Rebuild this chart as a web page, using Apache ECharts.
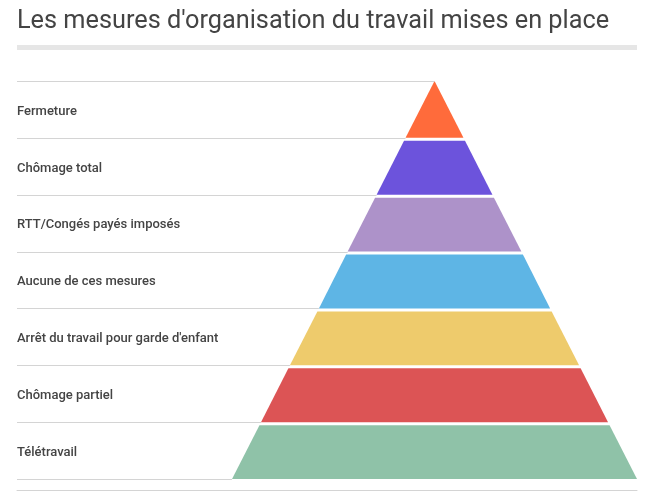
<!DOCTYPE html>
<html>
<head>
<meta charset="utf-8">
<script src="https://cdn.jsdelivr.net/npm/echarts@6/dist/echarts.min.js"></script>
<style>
  html, body { margin: 0; padding: 0; background: #fff; }
  #main { width: 651px; height: 497px; }
</style>
</head>
<body>
<div id="main"></div>
<script>
// pyramid levels, top to bottom
var categories = ['Fermeture', 'Chômage total', 'RTT/Congés payés imposés', 'Aucune de ces mesures',
  "Arrêt du travail pour garde d'enfant", 'Chômage partiel', 'Télétravail'];
// width of each level (bottom edge), % of base
var values = [14.3, 28.6, 42.9, 57.1, 71.4, 85.7, 100];
var colors = ['#ff6b3b', '#6c53dc', '#ad92c9', '#5eb5e5', '#eecb6c', '#dc5455', '#8fc2a8'];

var chart = echarts.init(document.getElementById('main'));

var seriesData = categories.map(function (name, i) {
  return {
    name: name,
    value: [i, values[i], i > 0 ? values[i - 1] : 0],
    itemStyle: { color: colors[i] }
  };
});

function renderItem(params, api) {
  var i = params.dataIndex;
  var v = api.value(1);
  var p = api.value(2);
  var center = api.coord([0, i]);
  var band = api.size([0, 1])[1];
  var s = api.size([1, 0])[0];
  var top = center[1] - band / 2;
  var bottom = center[1] + band / 2;
  var gap = i === 0 ? 0 : 3;
  var wTop = p + (v - p) * gap / band;
  var cx = center[0];
  var x0 = params.coordSys.x;
  var lineStyle = { stroke: '#d4d4d4', lineWidth: 1 };
  var children = [{
    type: 'polygon',
    shape: { points: [
      [cx - wTop / 2 * s, top + gap], [cx + wTop / 2 * s, top + gap],
      [cx + v / 2 * s, bottom], [cx - v / 2 * s, bottom]
    ] },
    style: { fill: api.visual('color') }
  }, {
    type: 'line',
    shape: { x1: x0, y1: Math.round(bottom) + 0.5, x2: cx - v / 2 * s, y2: Math.round(bottom) + 0.5 },
    style: lineStyle
  }];
  if (i === 0) {
    children.push({
      type: 'line',
      shape: { x1: x0, y1: Math.round(top) + 0.5, x2: cx, y2: Math.round(top) + 0.5 },
      style: lineStyle
    });
  }
  return { type: 'group', children: children };
}

var option = {
  backgroundColor: '#fff',
  animation: false,
  title: {
    text: "Les mesures d'organisation du travail mises en place",
    left: 17,
    top: 9,
    padding: 0,
    textStyle: {
      fontFamily: 'Roboto',
      fontSize: 25.3,
      fontWeight: 'normal',
      color: '#444'
    }
  },
  graphic: [{
    type: 'rect',
    left: 17,
    top: 45,
    shape: { width: 620, height: 5 },
    style: { fill: '#e6e6e6' }
  }],
  grid: {
    left: 17,
    right: 14,
    top: 81,
    bottom: 18
  },
  xAxis: {
    type: 'value',
    min: -103.1,
    max: 50,
    offset: 11,
    axisLine: { show: true, lineStyle: { color: '#d4d4d4', width: 1 } },
    axisTick: { show: false },
    axisLabel: { show: false },
    splitLine: { show: false }
  },
  yAxis: {
    type: 'category',
    data: categories,
    inverse: true,
    axisLine: { show: false },
    axisTick: { show: false },
    splitLine: { show: false },
    axisLabel: {
      inside: true,
      margin: 0,
      formatter: '{a|{value}}',
      rich: {
        a: {
          padding: [4, 0, 0, 0],
          fontFamily: 'Roboto',
          fontSize: 13,
          fontWeight: 500,
          color: '#444'
        }
      }
    }
  },
  series: [{
    type: 'custom',
    renderItem: renderItem,
    encode: { x: 1, y: 0 },
    data: seriesData
  }]
};

chart.setOption(option);
</script>
</body>
</html>
